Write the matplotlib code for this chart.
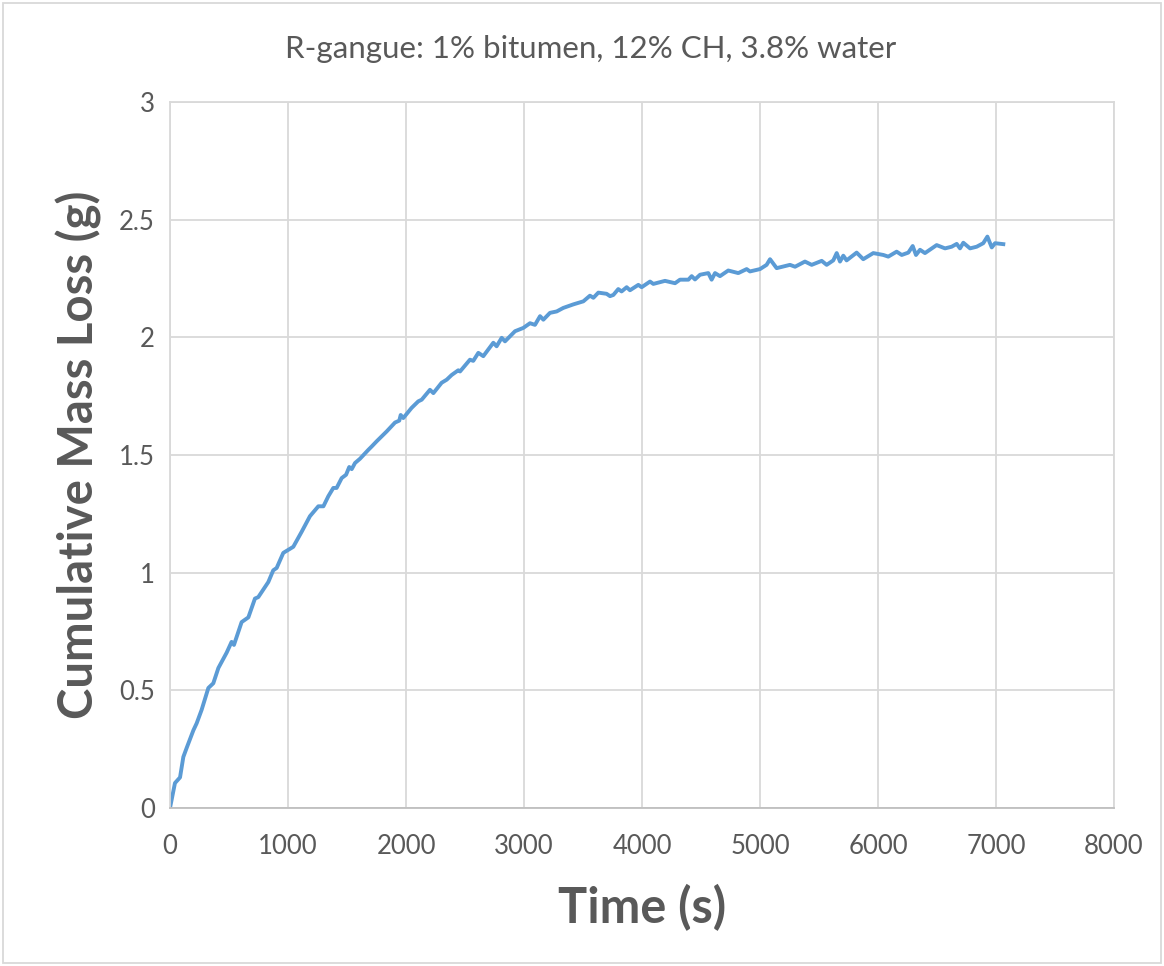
import matplotlib.pyplot as plt
from matplotlib.patches import Rectangle

# Data
time_s = [0, 42, 85, 113, 141, 198, 226, 268, 325, 367, 410, 480, 522, 542, 607, 664, 720, 748,
          833, 875, 904, 960, 1045, 1116, 1186, 1257, 1300, 1342, 1384, 1412, 1455, 1492, 1519,
          1540, 1568, 1610, 1681, 1709, 1751, 1836, 1907, 1943, 1955, 1977, 2047, 2104, 2133,
          2203, 2232, 2302, 2345, 2387, 2443, 2458, 2542, 2570, 2613, 2655, 2740, 2768, 2811,
          2839, 2924, 2994, 3051, 3093, 3136, 3164, 3220, 3277, 3333, 3418, 3503, 3559, 3588,
          3630, 3700, 3729, 3757, 3799, 3827, 3870, 3898, 3969, 3997, 4068, 4096, 4195, 4280,
          4322, 4393, 4421, 4449, 4492, 4562, 4590, 4619, 4661, 4731, 4816, 4887, 4915, 5000,
          5056, 5085, 5141, 5254, 5297, 5381, 5438, 5523, 5565, 5621, 5650, 5678, 5706, 5734,
          5819, 5875, 5960, 6045, 6087, 6158, 6201, 6257, 6294, 6322, 6356, 6398, 6497, 6568,
          6624, 6667, 6695, 6723, 6780, 6836, 6892, 6927, 6964, 6992, 7062]
mass_loss = [0, 0.106, 0.13, 0.217, 0.255, 0.33, 0.36, 0.417, 0.51, 0.53, 0.595, 0.66, 0.706,
             0.693, 0.79, 0.81, 0.89, 0.896, 0.96, 1.01, 1.02, 1.084, 1.11, 1.174, 1.24, 1.282,
             1.282, 1.325, 1.36, 1.36, 1.402, 1.416, 1.449, 1.44, 1.466, 1.484, 1.522, 1.536,
             1.558, 1.60, 1.638, 1.646, 1.67, 1.657, 1.70, 1.728, 1.735, 1.777, 1.763, 1.807,
             1.82, 1.84, 1.86, 1.855, 1.905, 1.90, 1.934, 1.92, 1.977, 1.962, 1.998, 1.983,
             2.026, 2.04, 2.06, 2.053, 2.09, 2.075, 2.104, 2.11, 2.125, 2.14, 2.153, 2.177,
             2.168, 2.19, 2.185, 2.175, 2.18, 2.205, 2.195, 2.213, 2.2, 2.223, 2.213, 2.237,
             2.227, 2.24, 2.23, 2.245, 2.245, 2.26, 2.246, 2.266, 2.273, 2.245, 2.273, 2.26,
             2.284, 2.273, 2.29, 2.28, 2.29, 2.308, 2.332, 2.294, 2.308, 2.30, 2.322, 2.308,
             2.325, 2.308, 2.327, 2.358, 2.322, 2.347, 2.327, 2.36, 2.332, 2.358, 2.35, 2.343,
             2.364, 2.35, 2.36, 2.388, 2.35, 2.372, 2.358, 2.392, 2.378, 2.385, 2.397, 2.378,
             2.402, 2.378, 2.385, 2.4, 2.428, 2.382, 2.40, 2.396]

x_ticks = [0, 1000, 2000, 3000, 4000, 5000, 6000, 7000, 8000]
y_ticks = [0, 0.5, 1, 1.5, 2, 2.5, 3]
y_tick_labels = ['0', '0.5', '1', '1.5', '2', '2.5', '3']

plt.rcParams['font.family'] = ['Lato', 'DejaVu Sans']
text_color = '#595959'
grid_color = '#D9D9D9'

fig = plt.figure(figsize=(11.64, 9.66), dpi=100)
ax = fig.add_axes([170 / 1164, 1 - 808 / 966, 944 / 1164, 706 / 966])

ax.plot(time_s, mass_loss, color='#5B9BD5', linewidth=2.8, solid_joinstyle='round')

ax.set_xlim(0, 8000)
ax.set_ylim(0, 3)
ax.set_xticks(x_ticks)
ax.set_yticks(y_ticks)
ax.set_yticklabels(y_tick_labels)
ax.tick_params(axis='x', length=0, labelsize=18.5, labelcolor=text_color, pad=19)
ax.tick_params(axis='y', length=0, labelsize=18.5, labelcolor=text_color, pad=11)
ax.grid(True, color=grid_color, linewidth=1.3)
ax.set_axisbelow(True)
for side in ['top', 'right', 'left']:
    ax.spines[side].set_color(grid_color)
    ax.spines[side].set_linewidth(1.3)
ax.spines['bottom'].set_color('#BFBFBF')
ax.spines['bottom'].set_linewidth(1.3)

ax.set_xlabel('Time (s)', fontsize=35, fontweight='bold', color=text_color, labelpad=18)
ax.set_ylabel('Cumulative Mass Loss (g)', fontsize=34, fontweight='bold', color=text_color, labelpad=12)
fig.text(0.507, 1 - 49 / 966, 'R-gangue: 1% bitumen, 12% CH, 3.8% water',
         ha='center', va='center', fontsize=22.5, color=text_color)

# light border around the chart area
fig.patches.append(Rectangle((0.003, 0.003), 0.994, 0.994, transform=fig.transFigure,
                             fill=False, edgecolor=grid_color, linewidth=1.3))

plt.savefig('out.png', dpi=100)
